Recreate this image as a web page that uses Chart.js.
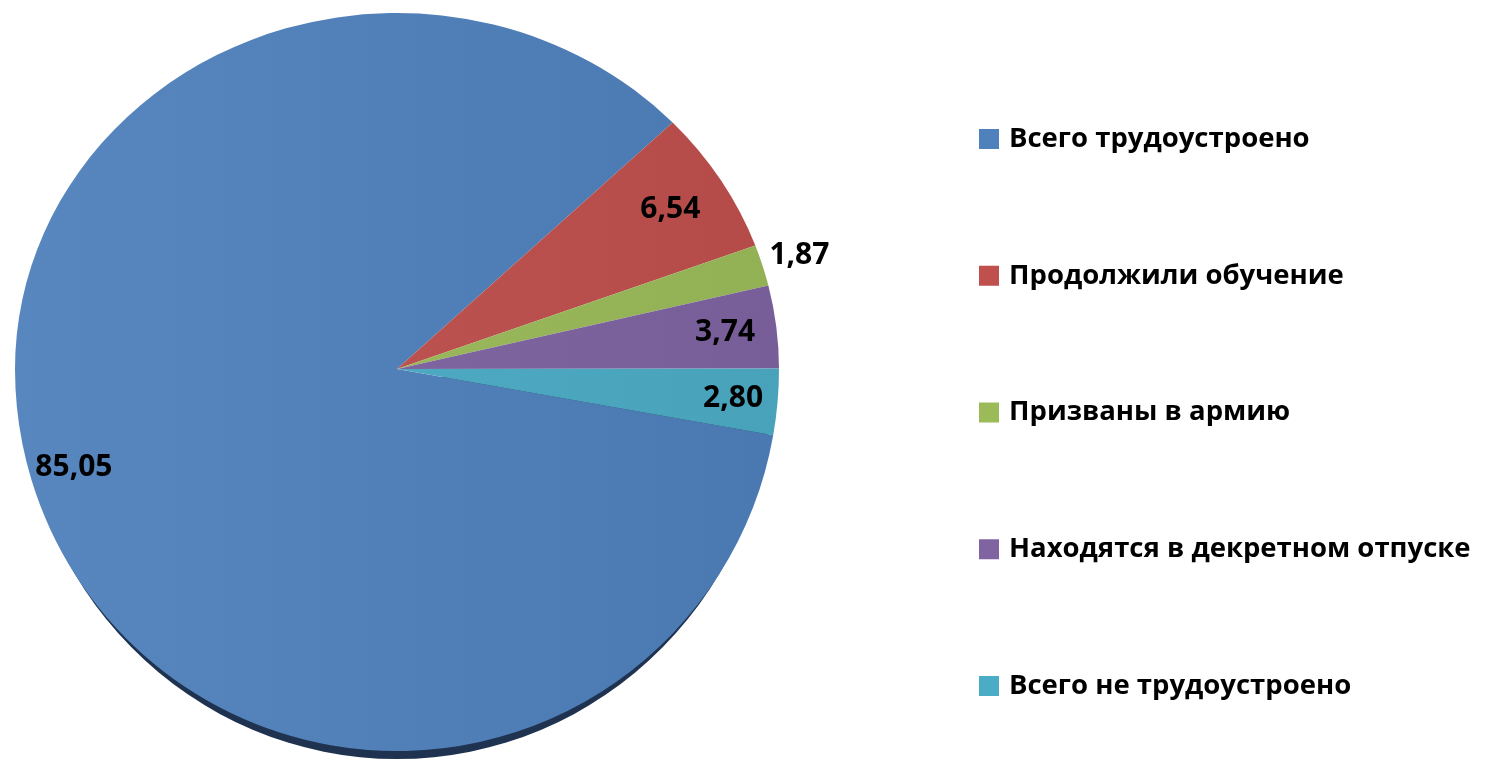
<!DOCTYPE html>
<html><head><meta charset="utf-8">
<script src="https://cdn.jsdelivr.net/npm/chart.js@4"></script>
<style>html,body{margin:0;padding:0;background:#fff;overflow:hidden}#wrap{width:1487px;height:761px;position:relative}</style>
</head><body><div id="wrap"><canvas id="grafico"></canvas></div>
<script>
const categorias = ['Всего трудоустроено', 'Продолжили обучение', 'Призваны в армию', 'Находятся в декретном отпуске', 'Всего не трудоустроено'];
const valores = [85.05, 6.54, 1.87, 3.74, 2.80];
const cores = ['#4F81BD', '#C0504D', '#9BBB59', '#8064A2', '#4BACC6'];
// distancia de cada rotulo ao centro (fracao do raio)
const distRotulo = [0.884, 0.844, 1.101, 0.865, 0.883];

const ESCALA_CIMA = 0.932, ESCALA_BAIXO = 1.0;
const fonte = '"Open Sans", sans-serif';

function mistura(hex, alvo, t) {
  const a = parseInt(hex.slice(1), 16), b = parseInt(alvo.slice(1), 16);
  const c = [16, 8, 0].map(s => Math.round(((a >> s) & 255) * (1 - t) + ((b >> s) & 255) * t));
  return 'rgb(' + c.join(',') + ')';
}

const pizza3d = {
  id: 'pizza3d',
  beforeDatasetsDraw(chart) {
    const ctx = chart.ctx;
    const arcs = chart.getDatasetMeta(0).data;
    const cx = arcs[0].x, cy = arcs[0].y, r = arcs[0].outerRadius;
    // lateral escura embaixo
    ctx.save();
    ctx.fillStyle = '#1F3350';
    ctx.beginPath();
    ctx.ellipse(cx, cy + 8, r - 6, r * ESCALA_BAIXO, 0, 0, Math.PI);
    ctx.fill();
    ctx.restore();
    [[0, cy, ESCALA_CIMA], [cy, chart.height, ESCALA_BAIXO]].forEach(([y0, y1, s]) => {
      ctx.save();
      ctx.beginPath();
      ctx.rect(0, y0, chart.width, y1 - y0);
      ctx.clip();
      ctx.translate(0, cy);
      ctx.scale(1, s);
      ctx.translate(0, -cy);
      arcs.forEach(a => a.draw(ctx));
      ctx.restore();
    });
    return false;
  },
  afterDraw(chart) {
    const ctx = chart.ctx;
    const arcs = chart.getDatasetMeta(0).data;
    ctx.save();
    ctx.fillStyle = '#000';
    ctx.textAlign = 'center';
    ctx.textBaseline = 'middle';
    ctx.font = 'bold 30px ' + fonte;
    arcs.forEach((a, i) => {
      const ang = (a.startAngle + a.endAngle) / 2;
      const d = a.outerRadius * distRotulo[i];
      const x = a.x + Math.cos(ang) * d;
      let dy = Math.sin(ang) * d;
      dy *= dy < 0 ? ESCALA_CIMA : ESCALA_BAIXO;
      ctx.fillText(valores[i].toFixed(2).replace('.', ','), x, a.y + dy);
    });
    // legenda
    ctx.textAlign = 'left';
    ctx.font = 'bold 27.5px ' + fonte;
    categorias.forEach((nome, i) => {
      const y = 139 + i * 136.75;
      ctx.fillStyle = cores[i];
      ctx.fillRect(979, y - 10, 20, 20);
      ctx.fillStyle = '#000';
      ctx.fillText(nome, 1009, y);
    });
    ctx.restore();
  }
};

new Chart(document.getElementById('grafico'), {
  type: 'pie',
  data: {
    labels: categorias,
    datasets: [{
      data: valores,
      backgroundColor: (c) => {
        const cor = cores[c.dataIndex];
        const area = c.chart.chartArea;
        if (!area) return cor;
        const meio = (area.left + area.right) / 2;
        const g = c.chart.ctx.createLinearGradient(meio - 382, 0, meio + 382, 0);
        g.addColorStop(0, mistura(cor, '#ffffff', 0.05));
        g.addColorStop(1, mistura(cor, '#000000', 0.06));
        return g;
      },
      borderWidth: 0,
      clip: false
    }]
  },
  options: {
    responsive: true,
    maintainAspectRatio: false,
    animation: false,
    rotation: 100,
    radius: 382,
    layout: { padding: { left: 0, right: 693, top: 0, bottom: 23 } },
    plugins: {
      legend: { display: false },
      tooltip: { enabled: false }
    }
  },
  plugins: [pizza3d]
});
</script>
</body></html>
